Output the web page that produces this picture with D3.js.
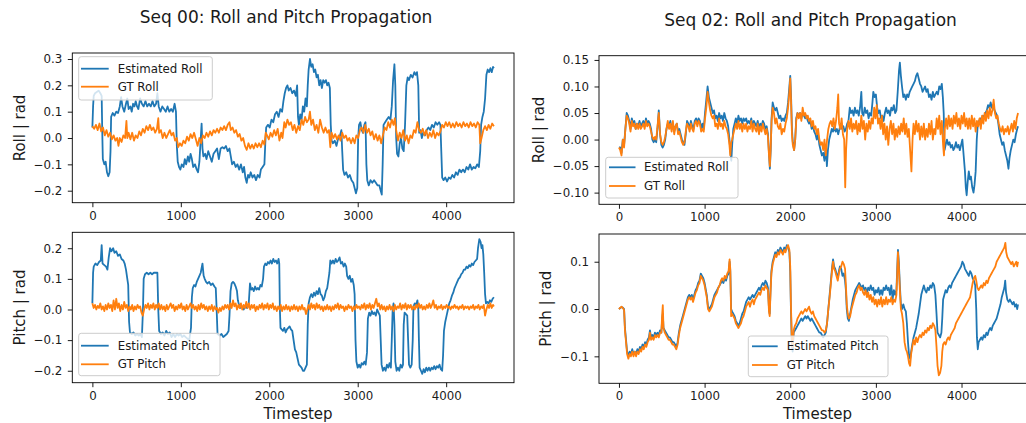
<!DOCTYPE html>
<html>
<head>
<meta charset="utf-8">
<script src="https://cdn.jsdelivr.net/npm/d3@7"></script>
<style>
  html, body { margin: 0; padding: 0; background: #fff; }
  svg { display: block; }
  text { font-family: "DejaVu Sans", sans-serif; fill: #1a1a1a; }
</style>
</head>
<body>
<svg id="chart" width="1026" height="423"></svg>
<script>
// ---------- data: [timestep, value] ----------
const xTicks = [0, 1000, 2000, 3000, 4000];
const rollTicks00 = [-0.2, -0.1, 0.0, 0.1, 0.2, 0.3];
const pitchTicks00 = [-0.2, -0.1, 0.0, 0.1, 0.2];
const rollTicks02 = [-0.10, -0.05, 0.00, 0.05, 0.10, 0.15];
const pitchTicks02 = [-0.1, 0.0, 0.1];

const xLim00 = [-227, 4767];
const xLim02 = [-233, 4893];
const rollLim00 = [-0.2456, 0.3228];
const pitchLim00 = [-0.239, 0.252];
const rollLim02 = [-0.122, 0.158];
const pitchLim02 = [-0.157, 0.1586];

const titles = ["Seq 00: Roll and Pitch Propagation", "Seq 02: Roll and Pitch Propagation"];

const seq00RollEst = [[0,0.04],[8,0.12],[15,0.16],[30,0.17],[50,0.175],[70,0.18],[90,0.17],[105,0.16],[112,0.02],[118,-0.08],[135,-0.1],[150,-0.09],[165,-0.13],[180,-0.145],[195,-0.13],[205,-0.05],[212,0.08],[230,0.095],[250,0.085],[270,0.1],[290,0.095],[310,0.12],[325,0.155],[340,0.12],[360,0.1],[380,0.13],[395,0.15],[410,0.11],[430,0.12],[445,0.1],[460,0.13],[475,0.12],[490,0.14],[505,0.12],[520,0.11],[540,0.15],[560,0.13],[580,0.12],[600,0.14],[620,0.12],[640,0.13],[660,0.12],[680,0.14],[700,0.12],[720,0.13],[735,0.17],[750,0.12],[770,0.1],[790,0.12],[810,0.11],[830,0.1],[850,0.12],[870,0.1],[890,0.11],[910,0.1],[930,0.13],[945,0.1],[955,-0.03],[965,-0.09],[980,-0.11],[995,-0.12],[1010,-0.1],[1030,-0.11],[1045,-0.08],[1060,-0.1],[1080,-0.07],[1095,-0.09],[1110,-0.06],[1125,-0.08],[1140,-0.11],[1160,-0.1],[1180,-0.12],[1195,-0.13],[1210,-0.09],[1222,-0.02],[1235,0.055],[1245,-0.04],[1255,-0.07],[1275,-0.06],[1290,-0.08],[1310,-0.05],[1330,-0.07],[1350,-0.09],[1370,-0.06],[1390,-0.05],[1410,-0.04],[1430,-0.08],[1450,-0.04],[1470,-0.035],[1490,-0.04],[1510,-0.03],[1530,-0.05],[1550,-0.04],[1565,-0.07],[1580,-0.1],[1600,-0.09],[1620,-0.11],[1640,-0.1],[1660,-0.12],[1680,-0.1],[1700,-0.13],[1715,-0.11],[1730,-0.15],[1745,-0.17],[1760,-0.14],[1775,-0.15],[1790,-0.13],[1810,-0.15],[1830,-0.14],[1850,-0.16],[1870,-0.14],[1890,-0.15],[1905,-0.12],[1925,-0.11],[1945,-0.1],[1955,-0.02],[1965,0.04],[1985,0.05],[2005,0.04],[2025,0.07],[2045,0.06],[2065,0.09],[2085,0.1],[2105,0.08],[2125,0.11],[2145,0.1],[2160,0.14],[2175,0.17],[2190,0.19],[2205,0.2],[2220,0.18],[2240,0.19],[2260,0.17],[2280,0.18],[2300,0.16],[2315,0.2],[2325,0.08],[2335,0.05],[2350,0.09],[2365,0.07],[2380,0.12],[2395,0.1],[2410,0.15],[2425,0.12],[2435,0.2],[2445,0.26],[2460,0.3],[2475,0.27],[2490,0.28],[2505,0.25],[2520,0.26],[2535,0.23],[2550,0.24],[2565,0.2],[2580,0.22],[2595,0.19],[2610,0.22],[2625,0.21],[2640,0.22],[2655,0.2],[2670,0.21],[2685,0.19],[2695,0.05],[2705,-0.01],[2720,-0.02],[2740,-0.01],[2760,-0.03],[2780,0.0],[2800,0.01],[2815,0.03],[2825,-0.05],[2835,-0.12],[2850,-0.14],[2870,-0.13],[2890,-0.15],[2910,-0.14],[2930,-0.16],[2950,-0.17],[2965,-0.19],[2980,-0.21],[2995,-0.19],[3005,0.0],[3015,0.05],[3030,0.06],[3045,0.03],[3060,0.02],[3075,0.05],[3088,0.06],[3098,-0.1],[3108,-0.16],[3125,-0.18],[3145,-0.16],[3165,-0.17],[3185,-0.16],[3205,-0.17],[3225,-0.18],[3245,-0.18],[3260,-0.2],[3272,-0.215],[3282,-0.1],[3292,0.05],[3310,0.06],[3330,0.07],[3350,0.08],[3370,0.07],[3385,0.12],[3400,0.22],[3415,0.28],[3425,0.2],[3435,0.0],[3445,-0.06],[3460,-0.07],[3475,-0.02],[3490,0.0],[3505,-0.04],[3520,-0.05],[3535,0.05],[3550,0.2],[3565,0.23],[3580,0.22],[3600,0.24],[3620,0.23],[3640,0.25],[3655,0.24],[3670,0.25],[3685,0.2],[3695,0.02],[3710,0.03],[3725,0.0],[3740,0.02],[3760,0.01],[3780,0.03],[3800,0.04],[3820,0.03],[3840,0.05],[3860,0.04],[3880,0.06],[3900,0.05],[3920,0.06],[3935,0.05],[3945,-0.05],[3955,-0.15],[3970,-0.16],[3990,-0.15],[4010,-0.165],[4030,-0.15],[4050,-0.155],[4070,-0.14],[4090,-0.15],[4110,-0.13],[4130,-0.14],[4150,-0.12],[4170,-0.13],[4190,-0.12],[4210,-0.13],[4230,-0.11],[4250,-0.12],[4270,-0.1],[4290,-0.12],[4310,-0.11],[4330,-0.115],[4350,-0.1],[4370,-0.11],[4385,-0.05],[4395,0.05],[4410,0.08],[4425,0.1],[4440,0.15],[4455,0.24],[4470,0.26],[4485,0.25],[4500,0.265],[4515,0.25],[4530,0.27],[4540,0.265]];

const seq00RollGt = [[0,0.045],[20,0.035],[40,0.05],[60,0.03],[80,0.055],[100,0.025],[120,0.04],[140,0.01],[160,0.03],[180,0.005],[200,0.02],[220,-0.005],[240,0.01],[260,-0.01],[280,0.0],[295,-0.03],[310,0.0],[330,-0.015],[350,0.01],[370,0.0],[385,0.065],[395,0.0],[410,0.02],[430,-0.005],[450,0.02],[470,-0.01],[490,0.01],[510,0.0],[530,0.025],[550,0.01],[570,0.035],[590,0.02],[610,0.045],[630,0.03],[650,0.05],[670,0.03],[690,0.04],[710,0.02],[730,0.035],[745,0.075],[755,0.02],[775,0.03],[795,0.0],[815,0.02],[835,0.0],[855,0.015],[875,0.03],[895,0.01],[915,0.02],[935,-0.01],[955,0.0],[970,-0.035],[990,-0.02],[1010,-0.03],[1030,-0.01],[1050,-0.02],[1070,0.005],[1090,-0.01],[1110,0.015],[1130,0.0],[1150,0.02],[1170,-0.005],[1190,-0.03],[1210,0.0],[1230,-0.02],[1250,0.01],[1270,0.0],[1290,0.02],[1310,0.005],[1330,0.025],[1350,0.01],[1370,0.03],[1390,0.02],[1410,0.035],[1430,0.02],[1450,0.04],[1470,0.03],[1490,0.045],[1510,0.03],[1530,0.05],[1550,0.06],[1565,0.03],[1585,0.04],[1605,0.02],[1625,0.03],[1645,0.005],[1665,0.015],[1685,-0.01],[1705,0.0],[1725,-0.03],[1745,-0.045],[1765,-0.02],[1785,-0.04],[1805,-0.025],[1825,-0.04],[1845,-0.02],[1865,-0.035],[1885,-0.02],[1905,-0.035],[1925,-0.01],[1945,-0.025],[1960,0.02],[1975,0.01],[1995,-0.005],[2015,0.02],[2035,0.005],[2055,0.03],[2075,0.01],[2095,0.035],[2115,-0.01],[2135,0.02],[2150,0.0],[2170,0.06],[2185,0.04],[2205,0.07],[2225,0.05],[2245,0.06],[2265,0.03],[2285,0.05],[2305,0.02],[2325,0.045],[2345,0.03],[2365,0.07],[2385,0.05],[2405,0.08],[2425,0.06],[2445,0.07],[2460,0.1],[2475,0.05],[2495,0.07],[2515,0.03],[2535,0.05],[2555,0.02],[2575,0.07],[2595,0.04],[2615,0.02],[2635,0.04],[2655,0.02],[2675,0.03],[2690,-0.035],[2705,0.02],[2725,0.0],[2745,0.015],[2765,-0.005],[2785,0.01],[2805,-0.01],[2825,0.02],[2845,0.0],[2865,0.01],[2885,-0.01],[2905,0.0],[2925,-0.02],[2945,0.0],[2965,-0.02],[2985,0.01],[3005,0.0],[3025,0.03],[3045,0.04],[3065,0.02],[3085,0.05],[3105,0.02],[3125,0.035],[3145,0.01],[3165,0.025],[3185,-0.005],[3205,0.015],[3225,-0.01],[3245,0.01],[3265,-0.02],[3285,0.01],[3305,0.04],[3325,0.03],[3345,0.06],[3365,0.04],[3385,0.07],[3405,0.05],[3420,0.075],[3435,0.03],[3455,-0.01],[3475,0.02],[3495,0.0],[3515,0.03],[3535,-0.01],[3555,0.01],[3575,-0.02],[3595,0.01],[3615,0.0],[3635,0.03],[3655,0.02],[3675,0.06],[3695,0.03],[3715,0.02],[3735,0.035],[3755,0.01],[3775,0.03],[3795,0.0],[3815,0.02],[3835,0.005],[3855,0.03],[3875,0.0],[3895,0.02],[3915,0.01],[3935,0.025],[3955,0.05],[3975,0.04],[3995,0.06],[4015,0.045],[4035,0.06],[4055,0.04],[4075,0.055],[4095,0.04],[4115,0.06],[4135,0.045],[4155,0.055],[4175,0.04],[4195,0.06],[4215,0.045],[4235,0.055],[4255,0.04],[4275,0.06],[4295,0.045],[4315,0.055],[4335,0.04],[4355,0.06],[4375,0.05],[4385,-0.02],[4400,0.0],[4420,0.03],[4440,0.045],[4460,0.03],[4480,0.05],[4500,0.035],[4520,0.055],[4540,0.045]];

const seq00PitchEst = [[0,0.02],[8,0.12],[15,0.14],[35,0.15],[55,0.145],[75,0.155],[95,0.16],[105,0.21],[115,0.15],[135,0.145],[155,0.14],[170,0.13],[185,0.17],[200,0.2],[215,0.19],[235,0.2],[250,0.185],[270,0.19],[290,0.175],[310,0.18],[330,0.165],[350,0.16],[365,0.15],[380,0.13],[395,0.1],[405,0.08],[415,-0.04],[425,-0.075],[445,-0.08],[465,-0.075],[485,-0.085],[505,-0.08],[525,-0.085],[545,-0.08],[560,-0.09],[572,0.0],[580,0.1],[595,0.115],[615,0.12],[635,0.115],[655,0.12],[675,0.115],[695,0.12],[715,0.12],[735,0.12],[745,0.0],[755,-0.07],[775,-0.08],[795,-0.075],[815,-0.085],[835,-0.07],[855,-0.08],[875,-0.075],[895,-0.09],[915,-0.08],[935,-0.09],[955,-0.08],[975,-0.085],[995,-0.08],[1015,-0.09],[1035,-0.085],[1055,-0.09],[1075,-0.095],[1095,-0.1],[1115,-0.06],[1125,0.04],[1135,0.07],[1150,0.08],[1165,0.075],[1180,0.09],[1195,0.1],[1210,0.11],[1225,0.12],[1245,0.15],[1258,0.11],[1270,0.1],[1285,0.09],[1300,0.085],[1320,0.09],[1340,0.08],[1360,0.085],[1380,0.075],[1395,0.07],[1405,0.0],[1415,-0.08],[1440,-0.085],[1460,-0.08],[1480,-0.09],[1500,-0.085],[1520,-0.08],[1540,-0.07],[1550,-0.02],[1562,0.06],[1575,0.085],[1590,0.09],[1605,0.085],[1620,0.075],[1635,0.06],[1645,0.03],[1658,0.015],[1670,0.005],[1690,0.01],[1710,0.0],[1730,0.01],[1750,0.005],[1768,0.02],[1782,0.085],[1795,0.065],[1810,0.07],[1825,0.06],[1840,0.075],[1855,0.065],[1870,0.07],[1885,0.065],[1900,0.08],[1915,0.075],[1930,0.1],[1940,0.14],[1955,0.15],[1970,0.145],[1985,0.155],[2000,0.15],[2015,0.16],[2030,0.15],[2045,0.165],[2060,0.155],[2075,0.16],[2090,0.15],[2105,0.165],[2113,0.15],[2120,0.0],[2127,-0.06],[2140,-0.065],[2155,-0.07],[2170,-0.06],[2185,-0.075],[2200,-0.065],[2215,-0.06],[2230,-0.055],[2245,-0.065],[2260,-0.07],[2275,-0.1],[2290,-0.13],[2305,-0.14],[2320,-0.16],[2335,-0.18],[2350,-0.185],[2365,-0.19],[2380,-0.2],[2395,-0.2],[2410,-0.19],[2425,-0.18],[2435,-0.05],[2445,0.02],[2460,0.04],[2475,0.05],[2490,0.04],[2505,0.055],[2520,0.045],[2535,0.06],[2550,0.05],[2565,0.07],[2580,0.05],[2595,0.045],[2610,0.03],[2625,0.04],[2640,0.06],[2655,0.07],[2670,0.1],[2680,0.12],[2690,0.16],[2705,0.15],[2720,0.16],[2735,0.15],[2750,0.165],[2765,0.155],[2780,0.16],[2795,0.17],[2810,0.15],[2825,0.155],[2840,0.14],[2855,0.15],[2870,0.14],[2880,0.11],[2895,0.1],[2910,0.11],[2925,0.09],[2940,0.1],[2955,0.08],[2965,0.05],[2975,-0.1],[2985,-0.17],[3000,-0.19],[3015,-0.18],[3030,-0.19],[3045,-0.175],[3060,-0.18],[3075,-0.17],[3090,-0.18],[3105,-0.14],[3115,-0.03],[3130,-0.01],[3145,-0.02],[3160,-0.005],[3175,-0.015],[3190,-0.01],[3205,-0.02],[3220,0.0],[3235,-0.01],[3250,-0.02],[3260,-0.1],[3270,-0.18],[3285,-0.2],[3300,-0.19],[3315,-0.2],[3330,-0.18],[3345,-0.19],[3360,-0.175],[3375,-0.19],[3385,-0.1],[3395,0.0],[3405,0.02],[3415,-0.05],[3425,-0.17],[3440,-0.2],[3455,-0.19],[3470,-0.2],[3485,-0.18],[3500,-0.19],[3512,-0.18],[3520,-0.05],[3530,-0.01],[3545,-0.015],[3560,-0.02],[3570,-0.1],[3580,-0.18],[3595,-0.19],[3610,-0.18],[3622,-0.1],[3630,0.01],[3645,0.02],[3660,0.015],[3675,0.03],[3685,0.0],[3692,-0.1],[3700,-0.19],[3715,-0.2],[3730,-0.21],[3745,-0.195],[3760,-0.205],[3775,-0.19],[3790,-0.2],[3805,-0.19],[3820,-0.2],[3835,-0.19],[3850,-0.195],[3865,-0.185],[3880,-0.195],[3895,-0.185],[3910,-0.19],[3925,-0.18],[3940,-0.195],[3955,-0.2],[3965,-0.15],[3975,-0.07],[3990,-0.04],[4005,-0.02],[4020,0.0],[4035,0.02],[4050,0.03],[4065,0.045],[4080,0.055],[4095,0.07],[4110,0.08],[4125,0.09],[4140,0.1],[4155,0.105],[4170,0.115],[4185,0.12],[4200,0.13],[4215,0.13],[4230,0.14],[4245,0.135],[4260,0.145],[4275,0.14],[4290,0.15],[4305,0.145],[4320,0.155],[4335,0.16],[4350,0.165],[4360,0.2],[4375,0.23],[4390,0.22],[4400,0.2],[4410,0.21],[4420,0.18],[4430,0.12],[4440,0.05],[4450,0.02],[4465,0.025],[4480,0.02],[4495,0.03],[4510,0.025],[4525,0.035],[4540,0.04]];

const seq00PitchGt = [[0,0.02],[15,0.005],[30,0.015],[45,0.0],[60,0.012],[75,0.005],[90,0.02],[105,0.0],[120,0.01],[135,-0.005],[150,0.015],[165,0.0],[180,0.02],[195,0.005],[210,0.015],[225,-0.005],[240,0.03],[255,0.0],[270,0.035],[285,0.005],[300,0.02],[315,-0.005],[330,0.015],[345,0.0],[360,0.025],[375,0.005],[390,0.015],[405,-0.005],[420,0.01],[435,0.0],[450,0.015],[465,-0.005],[480,0.01],[495,0.0],[510,0.015],[525,0.005],[540,0.01],[555,-0.01],[570,-0.02],[585,0.0],[600,0.015],[615,0.005],[630,0.02],[645,0.0],[660,0.015],[675,0.005],[690,0.02],[705,0.0],[720,0.015],[735,0.005],[750,0.02],[765,0.0],[780,0.015],[795,0.0],[810,0.01],[825,-0.005],[840,0.015],[855,0.0],[870,0.01],[885,0.02],[900,0.005],[915,0.015],[930,-0.005],[945,0.01],[960,0.0],[975,0.015],[990,0.005],[1005,0.02],[1020,0.0],[1035,0.01],[1050,-0.005],[1065,0.015],[1080,0.0],[1095,0.01],[1110,0.02],[1125,0.005],[1140,0.015],[1155,0.0],[1170,0.01],[1185,-0.005],[1200,0.015],[1215,0.0],[1230,0.02],[1245,0.005],[1260,0.015],[1275,0.0],[1290,0.01],[1305,-0.005],[1320,0.01],[1335,0.0],[1350,0.015],[1365,-0.005],[1380,0.01],[1395,0.0],[1410,0.005],[1425,-0.01],[1440,0.005],[1455,-0.005],[1470,0.01],[1485,0.0],[1500,0.015],[1515,0.005],[1530,0.015],[1545,0.0],[1560,0.02],[1575,0.005],[1590,0.03],[1605,0.01],[1620,0.02],[1635,0.0],[1650,0.015],[1665,0.005],[1680,0.02],[1695,0.0],[1710,0.015],[1725,0.005],[1740,0.025],[1755,0.005],[1770,0.02],[1785,0.0],[1800,0.015],[1815,0.005],[1830,0.015],[1845,-0.005],[1860,0.01],[1875,0.0],[1890,0.015],[1905,0.005],[1920,0.02],[1935,0.0],[1950,0.015],[1965,0.005],[1980,0.02],[1995,0.0],[2010,0.015],[2025,0.005],[2040,0.02],[2055,0.0],[2070,0.01],[2085,-0.005],[2100,0.01],[2115,0.0],[2130,0.015],[2145,-0.005],[2160,0.01],[2175,0.0],[2190,0.015],[2205,0.0],[2220,0.01],[2235,-0.005],[2250,0.01],[2265,0.0],[2280,0.015],[2295,0.0],[2310,0.01],[2325,-0.005],[2340,0.01],[2355,0.0],[2370,0.015],[2385,0.0],[2400,0.005],[2415,-0.015],[2430,0.0],[2445,0.015],[2460,0.0],[2475,0.02],[2490,0.005],[2505,0.015],[2520,0.0],[2535,0.02],[2550,0.005],[2565,0.015],[2580,0.0],[2595,0.01],[2610,-0.005],[2625,0.01],[2640,0.0],[2655,0.015],[2670,0.0],[2685,0.01],[2700,-0.005],[2715,0.01],[2730,0.0],[2745,0.015],[2760,0.005],[2775,0.02],[2790,0.0],[2805,0.015],[2820,0.005],[2835,0.01],[2850,-0.005],[2865,0.01],[2880,0.0],[2895,0.015],[2910,0.005],[2925,0.01],[2940,-0.005],[2955,0.01],[2970,0.0],[2985,0.015],[3000,0.005],[3015,0.01],[3030,0.0],[3045,0.015],[3060,0.005],[3075,0.02],[3090,0.0],[3105,0.015],[3120,0.005],[3135,0.02],[3150,0.0],[3165,0.015],[3180,0.005],[3195,0.02],[3210,0.035],[3225,0.01],[3240,0.02],[3255,0.0],[3270,0.015],[3285,0.0],[3300,0.01],[3315,-0.005],[3330,0.01],[3345,0.0],[3360,0.015],[3375,0.0],[3390,0.01],[3405,-0.005],[3420,0.015],[3435,0.0],[3450,0.01],[3465,0.005],[3480,0.02],[3495,0.0],[3510,0.015],[3525,0.005],[3540,0.02],[3555,0.0],[3570,0.015],[3585,0.005],[3600,0.015],[3615,0.0],[3630,0.01],[3645,0.0],[3660,0.015],[3675,0.005],[3690,0.02],[3705,0.005],[3720,0.015],[3735,0.0],[3750,0.01],[3765,0.0],[3780,0.015],[3795,0.005],[3810,0.02],[3825,0.005],[3840,0.015],[3855,0.03],[3870,0.005],[3885,0.015],[3900,0.0],[3915,0.01],[3930,0.005],[3945,0.015],[3960,0.0],[3975,0.01],[3990,0.005],[4005,0.015],[4020,0.005],[4035,0.01],[4050,0.0],[4065,0.01],[4080,0.005],[4095,0.015],[4110,0.005],[4125,0.01],[4140,0.0],[4155,0.01],[4170,0.005],[4185,0.015],[4200,0.0],[4215,0.01],[4230,0.005],[4245,0.01],[4260,0.0],[4275,0.01],[4290,0.005],[4305,0.015],[4320,0.0],[4335,0.01],[4350,0.005],[4365,0.015],[4380,0.0],[4395,0.01],[4410,0.005],[4425,0.015],[4440,-0.02],[4455,0.0],[4470,0.015],[4485,0.005],[4500,0.02],[4515,0.005],[4530,0.015],[4540,0.01]];

const seq02RollEst = [[0,-0.015],[15,-0.015],[30,-0.025],[45,0.0],[60,-0.01],[75,0.02],[90,0.05],[105,0.045],[120,0.035],[135,0.02],[150,0.04],[165,0.03],[180,0.035],[195,0.02],[210,0.03],[225,0.025],[240,0.035],[255,0.025],[270,0.03],[285,0.035],[300,0.025],[315,0.04],[330,0.03],[345,0.035],[360,0.03],[375,0.02],[390,0.0],[405,-0.005],[420,0.0],[435,-0.005],[450,0.02],[465,0.055],[480,0.01],[495,-0.01],[510,-0.015],[525,-0.01],[540,0.0],[555,0.02],[570,0.03],[585,0.025],[600,0.035],[615,0.02],[630,0.03],[645,0.015],[660,0.025],[675,0.03],[690,0.015],[705,0.02],[720,0.01],[735,0.0],[750,-0.005],[765,-0.01],[780,0.01],[795,0.035],[810,0.03],[825,0.02],[840,0.035],[855,0.025],[870,0.02],[885,0.035],[900,0.04],[915,0.03],[930,0.04],[945,0.035],[960,0.02],[975,0.03],[990,0.02],[1005,0.05],[1020,0.075],[1035,0.1],[1050,0.08],[1065,0.07],[1080,0.06],[1095,0.05],[1110,0.055],[1125,0.04],[1140,0.045],[1155,0.035],[1170,0.05],[1185,0.04],[1200,0.045],[1215,0.035],[1230,0.05],[1245,0.04],[1260,0.035],[1275,0.025],[1290,0.0],[1300,-0.02],[1312,-0.04],[1322,-0.01],[1335,0.02],[1350,0.03],[1365,0.04],[1380,0.03],[1395,0.045],[1410,0.035],[1425,0.04],[1440,0.03],[1455,0.04],[1470,0.035],[1485,0.04],[1500,0.03],[1515,0.035],[1530,0.03],[1545,0.04],[1560,0.025],[1575,0.035],[1590,0.03],[1605,0.025],[1620,0.035],[1635,0.02],[1650,0.03],[1665,0.025],[1680,0.035],[1695,0.03],[1710,0.02],[1725,0.025],[1740,0.01],[1750,-0.02],[1762,-0.055],[1772,-0.02],[1782,0.04],[1795,0.07],[1810,0.06],[1825,0.055],[1840,0.06],[1855,0.05],[1870,0.04],[1885,0.045],[1900,0.035],[1915,0.04],[1930,0.035],[1945,0.045],[1960,0.05],[1975,0.07],[1990,0.1],[2000,0.12],[2010,0.08],[2020,0.02],[2030,-0.005],[2045,-0.02],[2058,0.0],[2070,0.04],[2085,0.05],[2100,0.045],[2115,0.05],[2130,0.04],[2145,0.05],[2160,0.045],[2175,0.04],[2190,0.045],[2205,0.035],[2220,0.03],[2235,0.035],[2250,0.02],[2265,0.025],[2280,0.015],[2295,0.01],[2310,0.0],[2325,0.01],[2340,-0.01],[2355,-0.02],[2370,-0.03],[2385,-0.025],[2400,-0.04],[2415,-0.01],[2428,-0.05],[2440,-0.02],[2455,0.0],[2470,0.01],[2485,0.02],[2500,0.015],[2515,0.025],[2530,0.015],[2545,0.02],[2560,0.01],[2575,0.02],[2590,0.03],[2605,0.02],[2620,0.025],[2635,0.015],[2650,0.02],[2665,0.03],[2680,0.035],[2695,0.06],[2710,0.05],[2725,0.055],[2740,0.045],[2755,0.06],[2770,0.05],[2785,0.055],[2800,0.045],[2815,0.06],[2830,0.09],[2840,0.05],[2855,0.045],[2870,0.06],[2885,0.05],[2900,0.055],[2915,0.04],[2930,0.05],[2945,0.045],[2960,0.07],[2970,0.09],[2985,0.08],[3000,0.085],[3015,0.06],[3030,0.05],[3045,0.055],[3060,0.04],[3075,0.045],[3090,0.035],[3105,0.05],[3120,0.06],[3135,0.05],[3150,0.055],[3165,0.045],[3180,0.06],[3195,0.055],[3210,0.065],[3225,0.05],[3240,0.055],[3255,0.09],[3270,0.13],[3280,0.145],[3292,0.12],[3305,0.1],[3320,0.08],[3335,0.085],[3350,0.075],[3365,0.085],[3380,0.08],[3395,0.09],[3410,0.095],[3425,0.1],[3440,0.105],[3455,0.11],[3470,0.12],[3485,0.125],[3500,0.115],[3515,0.105],[3530,0.1],[3545,0.09],[3560,0.095],[3575,0.1],[3590,0.09],[3605,0.095],[3620,0.08],[3635,0.085],[3650,0.075],[3665,0.09],[3680,0.08],[3695,0.085],[3710,0.09],[3725,0.085],[3740,0.1],[3755,0.095],[3770,0.105],[3782,0.08],[3792,0.05],[3802,-0.02],[3815,-0.01],[3830,0.0],[3845,-0.01],[3860,-0.005],[3875,-0.015],[3890,-0.01],[3905,-0.02],[3920,-0.015],[3935,-0.005],[3950,-0.015],[3965,-0.01],[3980,-0.02],[3995,-0.01],[4010,0.0],[4025,-0.03],[4040,-0.06],[4050,-0.09],[4060,-0.105],[4072,-0.08],[4085,-0.06],[4098,-0.075],[4110,-0.07],[4125,-0.09],[4140,-0.1],[4152,-0.085],[4165,-0.06],[4178,0.0],[4190,0.03],[4205,0.035],[4220,0.04],[4235,0.035],[4250,0.045],[4265,0.04],[4280,0.05],[4295,0.055],[4310,0.065],[4325,0.06],[4340,0.07],[4355,0.06],[4370,0.065],[4385,0.055],[4400,0.05],[4415,0.045],[4430,0.03],[4445,0.01],[4460,0.0],[4475,-0.01],[4490,-0.005],[4505,-0.02],[4520,-0.03],[4535,-0.04],[4548,-0.055],[4560,-0.035],[4575,-0.02],[4590,-0.01],[4605,0.0],[4620,-0.005],[4635,0.01],[4650,0.02],[4660,0.025]];

const seq02RollGt = [[0,-0.015],[15,-0.02],[30,-0.03],[45,0.0],[60,-0.015],[75,0.02],[90,0.045],[105,0.04],[120,0.03],[135,0.015],[150,0.035],[165,0.025],[180,0.03],[195,0.02],[210,0.03],[225,0.02],[240,0.03],[255,0.02],[270,0.025],[285,0.03],[300,0.02],[315,0.035],[330,0.025],[345,0.03],[360,0.025],[375,0.015],[390,0.005],[405,0.0],[420,0.005],[435,0.0],[450,0.025],[465,0.05],[480,0.01],[495,-0.005],[510,-0.01],[525,-0.005],[540,0.005],[555,0.02],[570,0.035],[585,0.02],[600,0.03],[615,0.015],[630,0.035],[645,0.01],[660,0.025],[675,0.03],[690,0.01],[705,0.015],[720,0.005],[735,-0.005],[750,-0.01],[765,-0.005],[780,0.015],[795,0.03],[810,0.025],[825,0.015],[840,0.03],[855,0.02],[870,0.015],[885,0.03],[900,0.035],[915,0.025],[930,0.035],[945,0.03],[960,0.015],[975,0.02],[990,0.015],[1005,0.04],[1020,0.06],[1035,0.09],[1050,0.07],[1065,0.055],[1080,0.045],[1095,0.04],[1110,0.045],[1125,0.025],[1140,0.03],[1155,0.02],[1170,0.04],[1185,0.025],[1200,0.03],[1215,0.02],[1230,0.035],[1245,0.025],[1260,0.02],[1275,0.01],[1290,-0.01],[1300,-0.03],[1310,-0.005],[1322,0.0],[1335,0.01],[1350,0.02],[1365,0.03],[1380,0.02],[1395,0.035],[1410,0.02],[1425,0.03],[1440,0.015],[1455,0.03],[1470,0.02],[1485,0.03],[1500,0.015],[1515,0.025],[1530,0.02],[1545,0.035],[1560,0.015],[1575,0.03],[1590,0.02],[1605,0.015],[1620,0.03],[1635,0.01],[1650,0.025],[1665,0.015],[1680,0.03],[1695,0.02],[1710,0.01],[1725,0.02],[1740,0.005],[1750,-0.025],[1762,-0.05],[1772,-0.015],[1782,0.035],[1795,0.06],[1810,0.05],[1825,0.03],[1840,0.04],[1855,0.025],[1870,0.02],[1885,0.03],[1900,0.01],[1915,0.02],[1930,0.015],[1945,0.03],[1960,0.04],[1975,0.06],[1990,0.09],[2000,0.115],[2010,0.07],[2020,0.01],[2030,-0.01],[2045,-0.02],[2058,0.0],[2070,0.035],[2085,0.05],[2100,0.04],[2115,0.05],[2130,0.035],[2145,0.06],[2160,0.045],[2175,0.05],[2190,0.04],[2205,0.045],[2220,0.035],[2235,0.04],[2250,0.025],[2265,0.035],[2280,0.02],[2295,0.025],[2310,0.01],[2325,0.02],[2340,0.0],[2355,-0.01],[2370,-0.005],[2385,-0.02],[2400,0.0],[2415,-0.03],[2430,0.0],[2445,0.02],[2460,0.03],[2475,0.035],[2490,0.025],[2505,0.04],[2520,0.02],[2535,0.035],[2550,0.06],[2560,0.085],[2570,0.03],[2585,0.02],[2600,0.04],[2615,0.01],[2630,0.0],[2642,-0.09],[2652,-0.02],[2665,0.02],[2680,0.035],[2695,0.02],[2710,0.04],[2725,0.015],[2740,0.03],[2755,0.02],[2770,0.035],[2785,0.01],[2800,0.03],[2815,0.015],[2830,0.045],[2845,0.02],[2860,0.035],[2875,0.0],[2890,0.03],[2905,0.015],[2920,0.035],[2935,0.02],[2950,0.04],[2965,0.03],[2980,0.06],[2995,0.04],[3010,0.065],[3025,0.03],[3040,0.04],[3055,0.02],[3070,0.045],[3085,0.01],[3100,0.03],[3115,0.0],[3130,0.025],[3145,-0.01],[3160,0.02],[3175,0.035],[3190,0.01],[3205,0.03],[3220,0.0],[3235,0.02],[3250,0.005],[3265,0.025],[3280,0.01],[3295,0.03],[3310,0.015],[3325,0.04],[3340,0.01],[3355,0.03],[3370,0.005],[3385,0.02],[3400,-0.02],[3415,-0.06],[3428,0.0],[3440,0.03],[3455,0.01],[3470,0.035],[3485,0.015],[3500,0.03],[3515,0.0],[3530,0.025],[3545,0.005],[3560,0.03],[3575,0.0],[3590,0.02],[3605,0.005],[3620,0.03],[3635,0.01],[3650,0.035],[3665,0.0],[3680,0.02],[3695,0.01],[3710,0.04],[3725,0.02],[3740,0.045],[3755,0.01],[3770,0.035],[3785,-0.01],[3795,-0.03],[3805,0.02],[3820,0.04],[3835,0.02],[3850,0.045],[3865,0.025],[3880,0.04],[3895,0.02],[3910,0.045],[3925,0.03],[3940,0.05],[3955,0.025],[3970,0.04],[3985,0.02],[4000,0.045],[4015,0.03],[4030,0.05],[4045,0.025],[4060,0.04],[4075,0.02],[4090,0.04],[4105,0.02],[4120,0.045],[4135,0.025],[4150,0.04],[4165,0.015],[4180,0.035],[4195,0.025],[4210,0.04],[4225,0.02],[4240,0.045],[4255,0.03],[4270,0.05],[4285,0.035],[4300,0.055],[4315,0.04],[4330,0.06],[4345,0.045],[4360,0.055],[4375,0.075],[4390,0.05],[4405,0.04],[4420,0.045],[4435,0.03],[4450,0.02],[4465,0.015],[4480,0.025],[4495,0.01],[4510,0.02],[4525,0.015],[4540,0.025],[4555,0.01],[4570,0.02],[4585,0.03],[4600,0.015],[4615,0.035],[4630,0.02],[4645,0.04],[4660,0.05]];

const seq02PitchEst = [[0,0.0],[15,0.002],[30,0.004],[45,0.003],[60,0.0],[70,-0.04],[80,-0.06],[95,-0.09],[110,-0.1],[125,-0.09],[140,-0.095],[155,-0.085],[170,-0.095],[185,-0.09],[200,-0.095],[215,-0.085],[230,-0.09],[245,-0.08],[260,-0.085],[275,-0.075],[290,-0.08],[305,-0.07],[320,-0.075],[335,-0.065],[350,-0.06],[362,-0.045],[375,-0.06],[390,-0.055],[405,-0.06],[420,-0.05],[435,-0.055],[450,-0.05],[465,-0.055],[480,-0.045],[495,-0.05],[505,-0.02],[512,-0.01],[520,-0.04],[535,-0.045],[550,-0.05],[565,-0.055],[580,-0.06],[595,-0.06],[610,-0.065],[625,-0.07],[640,-0.07],[655,-0.075],[670,-0.08],[685,-0.07],[700,-0.05],[715,-0.035],[730,-0.025],[745,-0.015],[760,-0.005],[775,0.005],[790,0.015],[805,0.025],[820,0.03],[835,0.025],[850,0.03],[865,0.02],[880,0.03],[895,0.04],[910,0.045],[925,0.055],[940,0.06],[955,0.075],[970,0.07],[985,0.065],[1000,0.055],[1015,0.04],[1025,0.03],[1040,0.005],[1055,0.0],[1070,0.005],[1085,0.01],[1100,0.02],[1115,0.03],[1130,0.035],[1145,0.04],[1160,0.045],[1175,0.05],[1190,0.055],[1205,0.06],[1220,0.055],[1235,0.065],[1250,0.06],[1265,0.07],[1280,0.075],[1292,0.1],[1300,0.08],[1310,0.0],[1320,-0.005],[1335,-0.01],[1350,-0.015],[1365,-0.025],[1380,-0.03],[1395,-0.035],[1410,-0.03],[1425,-0.02],[1440,-0.01],[1455,-0.005],[1470,0.005],[1485,0.015],[1500,0.02],[1515,0.025],[1530,0.02],[1545,0.025],[1560,0.03],[1575,0.025],[1590,0.03],[1605,0.035],[1620,0.04],[1635,0.045],[1650,0.04],[1665,0.05],[1680,0.055],[1695,0.05],[1710,0.06],[1725,0.055],[1740,0.045],[1752,0.0],[1760,-0.01],[1770,0.04],[1780,0.08],[1795,0.1],[1810,0.11],[1825,0.12],[1840,0.115],[1855,0.125],[1870,0.12],[1885,0.13],[1900,0.125],[1915,0.12],[1930,0.13],[1945,0.125],[1960,0.135],[1975,0.13],[1990,0.12],[2000,0.08],[2008,0.0],[2018,-0.07],[2028,-0.09],[2040,-0.05],[2055,-0.045],[2070,-0.04],[2085,-0.035],[2100,-0.03],[2115,-0.025],[2130,-0.02],[2145,-0.025],[2160,-0.02],[2175,-0.015],[2190,-0.02],[2205,-0.015],[2220,-0.02],[2235,-0.025],[2250,-0.02],[2265,-0.025],[2280,-0.03],[2295,-0.035],[2310,-0.04],[2325,-0.045],[2340,-0.05],[2355,-0.05],[2370,-0.055],[2385,-0.06],[2400,-0.055],[2415,-0.05],[2430,-0.03],[2445,0.0],[2460,0.03],[2475,0.06],[2490,0.09],[2500,0.105],[2512,0.09],[2525,0.085],[2540,0.075],[2555,0.065],[2568,0.08],[2580,0.09],[2595,0.085],[2610,0.07],[2625,0.075],[2640,0.06],[2650,0.04],[2660,0.0],[2672,-0.02],[2685,-0.025],[2700,-0.01],[2715,0.005],[2730,0.02],[2745,0.03],[2760,0.04],[2775,0.045],[2790,0.05],[2805,0.055],[2820,0.05],[2835,0.045],[2850,0.05],[2865,0.04],[2880,0.045],[2895,0.035],[2910,0.045],[2925,0.04],[2940,0.05],[2955,0.04],[2970,0.045],[2985,0.03],[3000,0.04],[3015,0.035],[3030,0.045],[3045,0.03],[3060,0.04],[3075,0.03],[3090,0.045],[3105,0.04],[3120,0.05],[3135,0.04],[3150,0.045],[3165,0.03],[3180,0.05],[3195,0.02],[3210,0.04],[3225,0.03],[3240,0.04],[3250,0.09],[3258,0.125],[3268,0.1],[3280,0.05],[3292,0.01],[3305,0.0],[3320,0.01],[3335,0.0],[3350,-0.005],[3362,-0.03],[3375,-0.07],[3388,-0.1],[3400,-0.105],[3412,-0.09],[3425,-0.075],[3440,-0.06],[3455,-0.05],[3470,-0.04],[3485,-0.025],[3500,-0.01],[3515,0.01],[3530,0.03],[3545,0.04],[3560,0.05],[3575,0.04],[3590,0.035],[3605,0.045],[3620,0.04],[3635,0.05],[3650,0.045],[3665,0.055],[3680,0.05],[3695,0.03],[3708,-0.01],[3720,-0.05],[3735,-0.055],[3750,-0.06],[3765,-0.05],[3775,-0.02],[3785,0.02],[3800,0.03],[3815,0.04],[3830,0.035],[3845,0.045],[3860,0.05],[3875,0.045],[3890,0.055],[3905,0.06],[3920,0.065],[3935,0.07],[3950,0.075],[3965,0.08],[3980,0.085],[3995,0.09],[4010,0.1],[4025,0.095],[4040,0.085],[4055,0.08],[4070,0.075],[4085,0.07],[4100,0.08],[4115,0.075],[4130,0.065],[4145,0.06],[4160,0.05],[4172,0.0],[4180,-0.06],[4190,-0.085],[4200,-0.07],[4215,-0.065],[4230,-0.06],[4245,-0.065],[4260,-0.055],[4275,-0.06],[4290,-0.05],[4305,-0.055],[4320,-0.045],[4335,-0.04],[4350,-0.045],[4365,-0.035],[4380,-0.03],[4395,-0.025],[4410,-0.02],[4425,-0.01],[4440,0.0],[4455,0.01],[4470,0.025],[4485,0.035],[4500,0.045],[4510,0.06],[4520,0.035],[4535,0.02],[4550,0.015],[4565,0.02],[4580,0.015],[4595,0.01],[4610,0.015],[4625,0.005],[4640,0.01],[4650,0.0],[4660,0.01]];

const seq02PitchGt = [[0,0.0],[15,0.003],[30,0.005],[45,0.002],[60,-0.002],[70,-0.045],[80,-0.065],[95,-0.095],[110,-0.105],[125,-0.095],[140,-0.1],[155,-0.09],[170,-0.1],[185,-0.09],[200,-0.1],[215,-0.09],[230,-0.095],[245,-0.085],[260,-0.09],[275,-0.08],[290,-0.085],[305,-0.075],[320,-0.08],[335,-0.07],[350,-0.065],[362,-0.05],[375,-0.065],[390,-0.06],[405,-0.065],[420,-0.055],[435,-0.06],[450,-0.055],[465,-0.06],[480,-0.05],[495,-0.05],[505,-0.01],[512,0.008],[520,-0.04],[535,-0.05],[550,-0.055],[565,-0.06],[580,-0.065],[595,-0.065],[610,-0.07],[625,-0.075],[640,-0.075],[655,-0.08],[670,-0.085],[685,-0.075],[700,-0.055],[715,-0.04],[730,-0.03],[745,-0.02],[760,-0.01],[775,0.0],[790,0.01],[805,0.02],[820,0.025],[835,0.02],[850,0.025],[865,0.015],[880,0.025],[895,0.035],[910,0.04],[925,0.05],[940,0.055],[955,0.07],[970,0.065],[985,0.06],[1000,0.05],[1015,0.035],[1025,0.025],[1040,0.0],[1055,-0.005],[1070,0.0],[1085,0.005],[1100,0.015],[1115,0.025],[1130,0.03],[1145,0.035],[1160,0.045],[1175,0.05],[1190,0.06],[1205,0.065],[1220,0.06],[1235,0.07],[1250,0.065],[1265,0.075],[1280,0.08],[1292,0.105],[1300,0.085],[1310,-0.015],[1320,-0.01],[1335,-0.015],[1350,-0.02],[1365,-0.03],[1380,-0.035],[1395,-0.04],[1410,-0.035],[1425,-0.03],[1440,-0.02],[1455,-0.015],[1470,-0.005],[1485,0.005],[1500,0.01],[1515,0.015],[1530,0.005],[1545,0.015],[1560,0.02],[1575,0.01],[1590,0.02],[1605,0.025],[1620,0.03],[1635,0.035],[1650,0.03],[1665,0.04],[1680,0.045],[1695,0.04],[1710,0.05],[1725,0.045],[1740,0.04],[1752,-0.005],[1760,-0.015],[1770,0.035],[1780,0.075],[1795,0.095],[1810,0.105],[1825,0.115],[1840,0.11],[1855,0.12],[1870,0.115],[1885,0.125],[1900,0.12],[1915,0.115],[1930,0.125],[1945,0.12],[1960,0.13],[1975,0.135],[1990,0.125],[2000,0.09],[2008,0.01],[2018,-0.06],[2028,-0.08],[2040,-0.045],[2055,-0.035],[2070,-0.03],[2085,-0.02],[2100,-0.015],[2115,-0.01],[2130,-0.005],[2145,-0.01],[2160,-0.005],[2175,0.0],[2190,-0.005],[2205,0.0],[2220,0.005],[2235,-0.005],[2250,-0.01],[2265,-0.005],[2280,-0.015],[2295,-0.02],[2310,-0.025],[2325,-0.03],[2340,-0.035],[2355,-0.04],[2370,-0.045],[2385,-0.045],[2400,-0.05],[2415,-0.045],[2430,-0.03],[2445,0.0],[2460,0.025],[2475,0.055],[2490,0.085],[2500,0.1],[2512,0.085],[2525,0.08],[2540,0.07],[2555,0.06],[2568,0.075],[2580,0.085],[2595,0.09],[2610,0.1],[2625,0.095],[2640,0.085],[2650,0.05],[2660,0.01],[2672,-0.01],[2685,-0.02],[2700,-0.015],[2715,0.0],[2730,0.01],[2745,0.02],[2760,0.03],[2775,0.035],[2790,0.045],[2805,0.05],[2820,0.04],[2835,0.045],[2850,0.035],[2865,0.03],[2880,0.04],[2895,0.025],[2910,0.035],[2925,0.02],[2940,0.03],[2955,0.015],[2970,0.025],[2985,0.01],[3000,0.02],[3015,0.005],[3030,0.02],[3045,0.01],[3060,0.025],[3075,0.005],[3090,0.02],[3105,0.01],[3120,0.025],[3135,0.01],[3150,0.02],[3165,0.015],[3180,0.025],[3195,0.01],[3210,0.02],[3225,0.015],[3240,0.03],[3250,0.08],[3258,0.12],[3268,0.09],[3280,0.04],[3292,0.0],[3305,-0.01],[3320,-0.03],[3335,-0.07],[3350,-0.085],[3362,-0.09],[3375,-0.1],[3388,-0.115],[3400,-0.12],[3412,-0.095],[3425,-0.08],[3440,-0.065],[3455,-0.075],[3470,-0.06],[3485,-0.07],[3500,-0.06],[3515,-0.055],[3530,-0.06],[3545,-0.05],[3560,-0.055],[3575,-0.045],[3590,-0.05],[3605,-0.04],[3620,-0.045],[3635,-0.035],[3650,-0.04],[3665,-0.03],[3680,-0.035],[3695,-0.045],[3708,-0.08],[3720,-0.12],[3735,-0.14],[3750,-0.135],[3765,-0.12],[3775,-0.09],[3785,-0.075],[3800,-0.07],[3815,-0.075],[3830,-0.065],[3845,-0.06],[3860,-0.065],[3875,-0.055],[3890,-0.05],[3905,-0.045],[3920,-0.04],[3935,-0.03],[3950,-0.025],[3965,-0.02],[3980,-0.015],[3995,-0.01],[4010,-0.005],[4025,0.0],[4040,0.005],[4055,0.01],[4070,0.015],[4085,0.02],[4100,0.025],[4115,0.04],[4130,0.055],[4145,0.065],[4160,0.07],[4172,0.06],[4185,0.045],[4200,0.04],[4215,0.045],[4230,0.05],[4245,0.045],[4260,0.055],[4275,0.05],[4290,0.06],[4305,0.055],[4320,0.065],[4335,0.07],[4350,0.075],[4365,0.08],[4380,0.085],[4395,0.09],[4410,0.1],[4425,0.105],[4440,0.11],[4455,0.115],[4470,0.12],[4485,0.125],[4500,0.13],[4512,0.14],[4522,0.12],[4535,0.11],[4550,0.105],[4565,0.1],[4580,0.095],[4595,0.1],[4610,0.09],[4625,0.095],[4640,0.1],[4650,0.09],[4660,0.1]];

// ---------- styling ----------
const BLUE = "#1f77b4";
const ORANGE = "#ff7f0e";
const TICK_FONT = 11.8;

const panels = [
  { box: {left: 72.3, right: 514, top: 53, bottom: 202.7}, xLim: xLim00, yLim: rollLim00, yTicks: rollTicks00, yFmt: ".1f",
    est: seq00RollEst, gt: seq00RollGt, labels: ["Estimated Roll", "GT Roll"], yLabel: "Roll | rad", yLabelPos: [19.5, 128],
    legend: {x: 78.7, y: 56.7, w: 133.6, h: 43.3, rows: [68.7, 86.7], lx: [81, 108.7], tx: 117.7}, xLabel: false },
  { box: {left: 72.3, right: 514, top: 232.3, bottom: 382.7}, xLim: xLim00, yLim: pitchLim00, yTicks: pitchTicks00, yFmt: ".1f",
    est: seq00PitchEst, gt: seq00PitchGt, labels: ["Estimated Pitch", "GT Pitch"], yLabel: "Pitch | rad", yLabelPos: [19.5, 307.5],
    legend: {x: 78.7, y: 333.3, w: 141.3, h: 42.4, rows: [345.7, 364.3], lx: [81, 108.7], tx: 117.7}, xLabel: [298, 419] },
  { box: {left: 599, right: 1038, top: 55.7, bottom: 204.3}, xLim: xLim02, yLim: rollLim02, yTicks: rollTicks02, yFmt: ".2f",
    est: seq02RollEst, gt: seq02RollGt, labels: ["Estimated Roll", "GT Roll"], yLabel: "Roll | rad", yLabelPos: [538.5, 130],
    legend: {x: 605.7, y: 157.3, w: 132.3, h: 40.7, rows: [167.3, 186], lx: [609, 635.5], tx: 644}, xLabel: false },
  { box: {left: 599, right: 1038, top: 234, bottom: 383.3}, xLim: xLim02, yLim: pitchLim02, yTicks: pitchTicks02, yFmt: ".1f",
    est: seq02PitchEst, gt: seq02PitchGt, labels: ["Estimated Pitch", "GT Pitch"], yLabel: "Pitch | rad", yLabelPos: [546, 308.7],
    legend: {x: 748.3, y: 336, w: 139.7, h: 40.7, rows: [346.3, 365], lx: [752, 777.7], tx: 786.7}, xLabel: [817.5, 419] }
];

const svg = d3.select("#chart");

svg.append("text").attr("x", 286).attr("y", 23).attr("text-anchor", "middle")
  .style("font-size", "17px").text(titles[0]);
svg.append("text").attr("x", 810.5).attr("y", 26).attr("text-anchor", "middle")
  .style("font-size", "17px").text(titles[1]);

panels.forEach((p, i) => {
  const b = p.box;
  const x = d3.scaleLinear().domain(p.xLim).range([b.left, b.right]);
  const y = d3.scaleLinear().domain(p.yLim).range([b.bottom, b.top]);

  const clipId = "clip" + i;
  svg.append("clipPath").attr("id", clipId).append("rect")
    .attr("x", b.left).attr("y", b.top).attr("width", b.right - b.left).attr("height", b.bottom - b.top);

  const line = d3.line().x(d => x(d[0])).y(d => y(d[1]));
  const plot = svg.append("g").attr("clip-path", `url(#${clipId})`);
  plot.append("path").datum(p.est).attr("d", line)
    .attr("fill", "none").attr("stroke", BLUE).attr("stroke-width", 1.8).attr("stroke-linejoin", "round");
  plot.append("path").datum(p.gt).attr("d", line)
    .attr("fill", "none").attr("stroke", ORANGE).attr("stroke-width", 1.8).attr("stroke-linejoin", "round");

  // axes
  const xAxis = svg.append("g").attr("transform", `translate(0,${b.bottom})`)
    .call(d3.axisBottom(x).tickValues(xTicks).tickFormat(d3.format("d")).tickSize(4.5).tickPadding(4));
  const yAxis = svg.append("g").attr("transform", `translate(${b.left},0)`)
    .call(d3.axisLeft(y).tickValues(p.yTicks).tickFormat(d3.format(p.yFmt)).tickSize(4.5).tickPadding(5.5));
  [xAxis, yAxis].forEach(ax => {
    ax.select(".domain").remove();
    ax.attr("font-family", null).attr("font-size", null);
    ax.selectAll(".tick line").attr("stroke", "#000").attr("stroke-width", 0.9);
    ax.selectAll(".tick text").attr("fill", "#1a1a1a").style("font-size", TICK_FONT + "px");
  });

  // spines
  svg.append("rect").attr("x", b.left).attr("y", b.top)
    .attr("width", b.right - b.left).attr("height", b.bottom - b.top)
    .attr("fill", "none").attr("stroke", "#000").attr("stroke-width", 0.9);

  // legend
  const L = p.legend;
  const lg = svg.append("g");
  lg.append("rect").attr("x", L.x).attr("y", L.y).attr("width", L.w).attr("height", L.h)
    .attr("rx", 2.5).attr("fill", "#fff").attr("fill-opacity", 0.8)
    .attr("stroke", "#cccccc").attr("stroke-width", 1);
  [BLUE, ORANGE].forEach((c, k) => {
    lg.append("line").attr("x1", L.lx[0]).attr("x2", L.lx[1])
      .attr("y1", L.rows[k]).attr("y2", L.rows[k]).attr("stroke", c).attr("stroke-width", 1.8);
    lg.append("text").attr("x", L.tx).attr("y", L.rows[k]).attr("dy", "0.35em")
      .style("font-size", TICK_FONT + "px").text(p.labels[k]);
  });

  // axis labels
  svg.append("text")
    .attr("transform", `translate(${p.yLabelPos[0]},${p.yLabelPos[1]}) rotate(-90)`)
    .attr("text-anchor", "middle").attr("dy", "0.35em")
    .style("font-size", "15px").text(p.yLabel);
  if (p.xLabel) {
    svg.append("text").attr("x", p.xLabel[0]).attr("y", p.xLabel[1])
      .attr("text-anchor", "middle").style("font-size", "15px").text("Timestep");
  }
});
</script>
</body>
</html>
